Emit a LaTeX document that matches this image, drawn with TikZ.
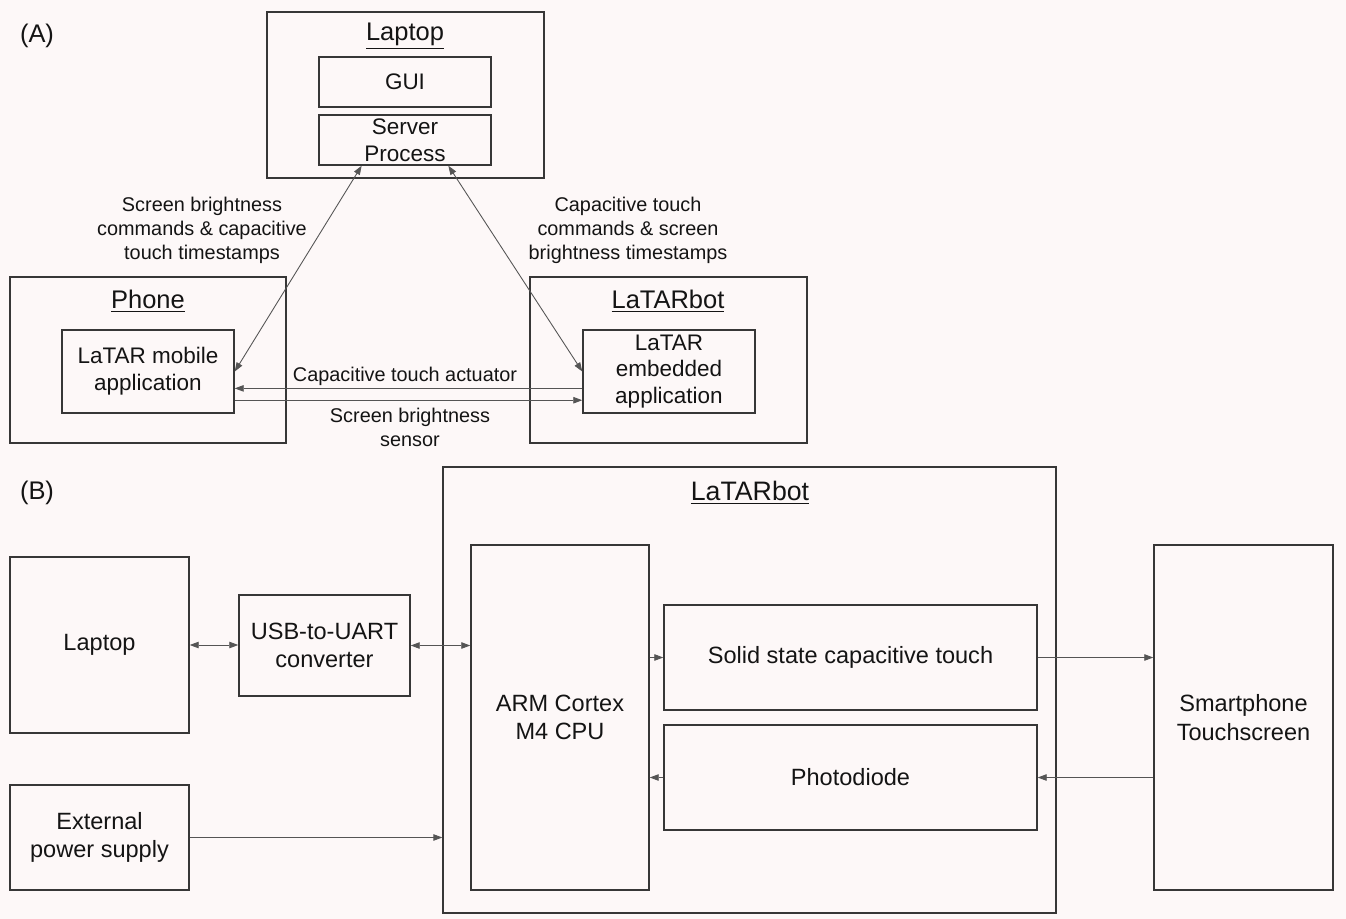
\documentclass[tikz,border=0pt]{standalone}
\usepackage{fontspec}
\setmainfont{Liberation Sans}
\usetikzlibrary{arrows.meta, positioning, calc}
\definecolor{pozadina}{RGB}{253,248,248}
\definecolor{linija}{RGB}{55,55,55}
\definecolor{vezaboja}{RGB}{85,85,85}
\definecolor{tekst}{RGB}{20,20,20}
\tikzset{blok/.style={draw=linija, line width=0.85pt, rectangle, inner sep=0pt,
    align=center, text=tekst, font=\fontsize{12.8}{15.3}\selectfont},
  blokB/.style={blok, font=\fontsize{13.4}{16.2}\selectfont},
  natpis/.style={text=tekst, font=\fontsize{11.3}{13.6}\selectfont, align=center,
    inner sep=0pt},
  naslov/.style={text=tekst, font=\fontsize{14.5}{17}\selectfont, inner sep=0pt},
  strelica2/.style={draw=vezaboja, line width=0.5pt,
    -{Triangle[length=1.8mm,width=1.3mm]}},
  dvostrana/.style={strelica2, {Triangle[length=1.8mm,width=1.3mm]}-{Triangle[length=1.8mm,width=1.3mm]}}}

\begin{document}
\begin{tikzpicture}[x=0.02cm, y=-0.02cm]
    %pozadina
    \fill[pozadina] (0, 0) rectangle (1346, 919);

    %dio A
    \node[naslov] (oznA) at (37, 36) {(A)};
    \node[blok, minimum width=5.54cm, minimum height=3.32cm] (lapA) at (405.5, 95) {};
    \node[naslov] (lapAnas) at (405, 36) {\underline{Laptop}};
    \node[blok, minimum width=3.44cm, minimum height=1cm] (gui) at (405, 82) {GUI};
    \node[blok, minimum width=3.44cm, minimum height=1cm] (srv) at (405, 140) {Server\\Process};

    \node[blok, minimum width=5.52cm, minimum height=3.32cm] (phone) at (148, 360) {};
    \node[naslov] (phonenas) at (148, 301) {\underline{Phone}};
    \node[blok, minimum width=3.44cm, minimum height=1.66cm] (mob) at (148, 371.5) {LaTAR mobile\\application};

    \node[blok, minimum width=5.54cm, minimum height=3.32cm] (botA) at (668.5, 360) {};
    \node[naslov] (botAnas) at (668, 301) {\underline{LaTARbot}};
    \node[blok, minimum width=3.44cm, minimum height=1.66cm] (emb) at (669, 371.5) {LaTAR\\embedded\\application};

    %natpisi
    \node[natpis] (lbl1) at (202, 230) {Screen brightness\\commands \& capacitive\\touch timestamps};
    \node[natpis] (lbl2) at (628, 230) {Capacitive touch\\commands \& screen\\brightness timestamps};
    \node[natpis] (lbl3) at (405, 376) {Capacitive touch actuator};
    \node[natpis] (lbl4) at (410, 427) {Screen brightness\\sensor};

    %veze A
    \draw[dvostrana] ($(srv.south west)!0.25!(srv.south east)$) -- (mob.east);
    \draw[dvostrana] ($(srv.south west)!0.75!(srv.south east)$) -- (emb.west);
    \draw[strelica2] ($(emb.north west)!0.7!(emb.south west)$) -- ($(mob.north east)!0.7!(mob.south east)$);
    \draw[strelica2] ($(mob.north east)!0.84!(mob.south east)$) -- ($(emb.north west)!0.84!(emb.south west)$);

    %dio B
    \node[naslov] (oznB) at (37, 493) {(B)};
    \node[blok, minimum width=12.26cm, minimum height=8.92cm] (botB) at (749.5, 690) {};
    \node[naslov, font=\fontsize{15.2}{18}\selectfont] (botBnas) at (750, 493) {\underline{LaTARbot}};
    \node[blokB, minimum width=3.58cm, minimum height=3.52cm] (lapB) at (99.5, 645) {Laptop};
    \node[blokB, minimum width=3.42cm, minimum height=2.02cm] (usb) at (324.5, 645.5) {USB-to-UART\\converter};
    \node[blokB, minimum width=3.56cm, minimum height=6.9cm] (arm) at (560, 717.5) {ARM Cortex\\M4 CPU};
    \node[blokB, minimum width=7.46cm, minimum height=2.1cm] (solid) at (850.5, 657.5) {Solid state capacitive touch};
    \node[blokB, minimum width=7.46cm, minimum height=2.1cm] (pd) at (850.5, 777.5) {Photodiode};
    \node[blokB, minimum width=3.58cm, minimum height=6.9cm] (smart) at (1243.5, 717.5) {Smartphone\\Touchscreen};
    \node[blokB, minimum width=3.58cm, minimum height=2.1cm] (ext) at (99.5, 837.5) {External\\power supply};

    %veze B
    \draw[dvostrana] (lapB.east) -- (lapB.east -| usb.west);
    \draw[dvostrana] (usb.east) -- (usb.east -| arm.west);
    \draw[strelica2] (solid.west -| arm.east) -- (solid.west);
    \draw[strelica2] (pd.west) -- (pd.west -| arm.east);
    \draw[strelica2] (solid.east) -- (solid.east -| smart.west);
    \draw[strelica2] (pd.east -| smart.west) -- (pd.east);
    \draw[strelica2] (ext.east) -- (ext.east -| botB.west);
\end{tikzpicture}
\end{document}
